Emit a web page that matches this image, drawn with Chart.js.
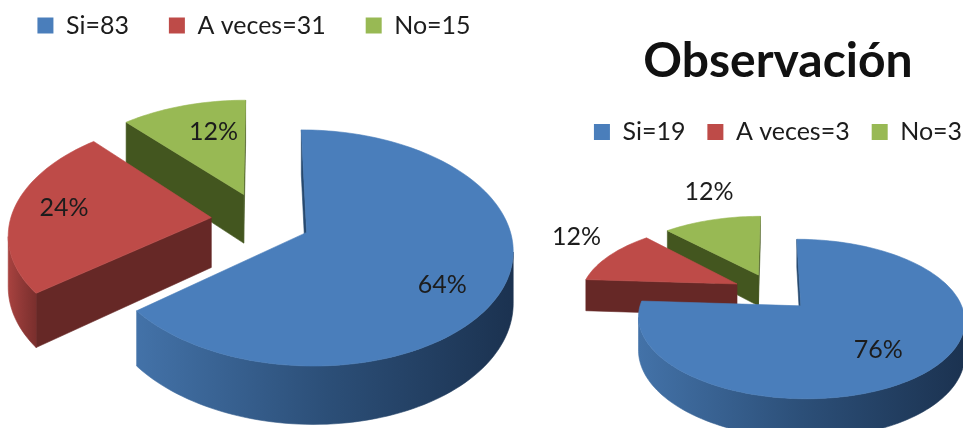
<!DOCTYPE html>
<html>
<head>
<meta charset="utf-8">
<script src="https://cdn.jsdelivr.net/npm/chart.js@4"></script>
<style>
  html, body { margin: 0; background: #fff; overflow: hidden; width: 963px; height: 428px; }
  .pie { position: absolute; filter: blur(0.45px); }
  #leftPie { left: -40px; top: -27px; width: 588px; height: 455px; }
  #rightPie { left: 540px; top: 0; width: 476px; height: 428px; }
</style>
</head>
<body>
<div class="pie" id="leftPie"><canvas id="leftCanvas"></canvas></div>
<div class="pie" id="rightPie"><canvas id="rightCanvas"></canvas></div>
<script>
const categories = ["Si", "A veces", "No"];
const leftValues = [83, 31, 15];
const rightValues = [19, 3, 3];
const rightTitle = "Observación";

const colors = ["#4a7ebb", "#be4b48", "#98b954"];
const cutColors = ["#27496f", "#662826", "#43561f"];
const rimColors = [["#4372a8", "#2c4f78", "#1b3250"], ["#a8423f", "#8f3836", "#7a2f2d"], ["#5a7030", "#465a24", "#3f5220"]];
const FONT = "Lato";

// tilted, exploded pie: angles and radius come from the arc elements, the view only bends them
const tiltedPie = {
  id: "tiltedPie",
  beforeDatasetsDraw(chart, args, view) {
    const ctx = chart.ctx;
    const arcs = chart.getDatasetMeta(0).data;
    const total = chart.data.datasets[0].data.reduce((a, b) => a + b, 0);

    const project = (arc, X, Y, z) => {
      const s = 1 / (1 - view.persp * Y);
      return [
        arc.x + view.dx + arc.outerRadius * X * s,
        arc.y + view.dy + arc.outerRadius * view.tilt * Y * s + (z ? view.depth * s : 0),
      ];
    };

    const fillPoly = (pts, fill) => {
      ctx.beginPath();
      pts.forEach((p, i) => (i ? ctx.lineTo(p[0], p[1]) : ctx.moveTo(p[0], p[1])));
      ctx.closePath();
      ctx.fillStyle = fill;
      ctx.strokeStyle = fill;
      ctx.lineWidth = 0.6;
      ctx.fill();
      ctx.stroke();
    };

    const labels = [];
    for (let i = arcs.length - 1; i >= 0; i--) {
      const arc = arcs[i];
      const start = arc.startAngle + Math.PI / 2;
      const end = arc.endAngle + Math.PI / 2;
      const mid = (start + end) / 2;
      const d = arc.options.offset / arc.outerRadius;
      const ox = d * Math.sin(mid);
      const oy = -d * Math.cos(mid);
      const world = (a, r) => [ox + r * Math.sin(a), oy - r * Math.cos(a)];

      const steps = Math.ceil((end - start) / 0.03);
      const rim = [];
      for (let s = 0; s <= steps; s++) {
        const w = world(start + ((end - start) * s) / steps, 1);
        rim.push({ w, top: project(arc, w[0], w[1], false), bot: project(arc, w[0], w[1], true) });
      }
      const apexTop = project(arc, ox, oy, false);
      const apexBot = project(arc, ox, oy, true);

      // cut faces that look towards the viewer
      const first = rim[0];
      const last = rim[rim.length - 1];
      if (first.top[0] < apexTop[0] - 0.5) {
        fillPoly([apexTop, first.top, first.bot, apexBot], cutColors[i]);
      }
      if (apexTop[0] < last.top[0] - 0.5) {
        fillPoly([last.top, apexTop, apexBot, last.bot], cutColors[i]);
      }

      // outer wall, only where the rim runs leftwards on screen
      let run = [];
      const flush = () => {
        if (run.length > 1) {
          const xs = run.map((r) => r.top[0]);
          const g = ctx.createLinearGradient(Math.min(...xs), 0, Math.max(...xs), 0);
          rimColors[i].forEach((c, n) => g.addColorStop(n / (rimColors[i].length - 1), c));
          fillPoly(run.map((r) => r.top).concat(run.map((r) => r.bot).reverse()), g);
        }
        run = [];
      };
      for (let s = 1; s < rim.length; s++) {
        if (rim[s].top[0] < rim[s - 1].top[0]) {
          if (!run.length) run.push(rim[s - 1]);
          run.push(rim[s]);
        } else flush();
      }
      flush();

      fillPoly([apexTop].concat(rim.map((r) => r.top)), arc.options.backgroundColor);

      const [frac, radius] = view.labelAt[i];
      const lw = world(start + (end - start) * frac, radius);
      const lp = project(arc, lw[0], lw[1], false);
      const value = chart.data.datasets[0].data[i];
      labels.push([Math.round((value / total) * 100) + "%", lp[0], lp[1]]);
    }

    ctx.fillStyle = "#1c1c1c";
    ctx.font = view.labelFont;
    ctx.textAlign = "center";
    ctx.textBaseline = "middle";
    labels.forEach((l) => ctx.fillText(l[0], l[1], l[2]));
    return false;
  },
};

function makePie(canvasId, values, opts) {
  return new Chart(document.getElementById(canvasId), {
    type: "pie",
    data: {
      labels: categories.map((c, i) => `${c}=${values[i]}`),
      datasets: [{ data: values, backgroundColor: colors, borderWidth: 0, offset: opts.offset, radius: opts.radius }],
    },
    plugins: [tiltedPie],
    options: {
      responsive: true,
      maintainAspectRatio: false,
      animation: false,
      events: [],
      plugins: {
        tooltip: { enabled: false },
        tiltedPie: opts.view,
        title: opts.title,
        legend: {
          position: "top",
          labels: {
            color: "#1c1c1c",
            boxWidth: 16,
            boxHeight: 16,
            padding: opts.legendGap,
            font: { family: FONT, size: 25 },
          },
        },
      },
    },
  });
}

makePie("leftCanvas", leftValues, {
  radius: 201,
  offset: 50,
  legendGap: 40,
  title: { display: false },
  view: {
    dx: 7,
    dy: -18,
    tilt: 0.561,
    persp: 0.13,
    depth: 50,
    labelFont: "25px " + FONT,
    labelAt: [[0.538, 0.748], [0.52, 0.751], [0.634, 0.66]],
  },
});

makePie("rightCanvas", rightValues, {
  radius: 156,
  offset: 40,
  legendGap: 22,
  title: {
    display: true,
    text: rightTitle,
    color: "#111",
    padding: { top: 33, bottom: 7 },
    font: { family: FONT, size: 48, weight: "bold" },
  },
  view: {
    dx: -5.4,
    dy: 0.5,
    tilt: 0.468,
    persp: 0.16,
    depth: 32,
    labelFont: "25px " + FONT,
    labelAt: [[0.514, 0.67], [0.655, 1.41], [0.634, 1.568]],
  },
});
</script>
</body>
</html>
